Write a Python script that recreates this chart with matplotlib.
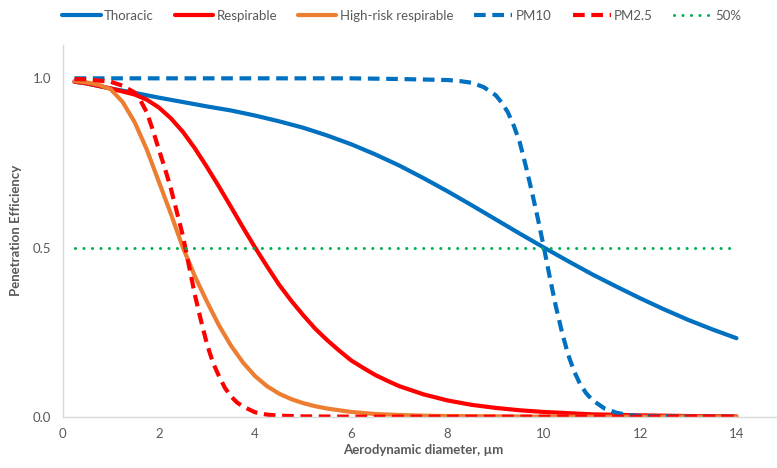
import matplotlib
matplotlib.use("Agg")
import matplotlib.pyplot as plt

# values
thor_x = [0.25, 0.5, 1, 1.5, 2, 2.5, 3, 3.5, 4, 4.5, 5, 5.5, 6, 6.5, 7, 7.5, 8, 8.5, 9, 9.5,
          10, 10.5, 11, 11.5, 12, 12.5, 13, 13.5, 14]
thor_y = [0.99, 0.985, 0.97, 0.957, 0.943, 0.93, 0.917, 0.905, 0.89, 0.873, 0.854, 0.831, 0.805,
          0.775, 0.742, 0.705, 0.666, 0.625, 0.583, 0.541, 0.50, 0.46, 0.421, 0.385, 0.35, 0.317,
          0.286, 0.258, 0.232]

resp_x = [0.25, 0.5, 1, 1.5, 1.75, 2, 2.25, 2.5, 2.75, 3, 3.25, 3.5, 3.75, 4, 4.25, 4.5, 4.75,
          5, 5.25, 5.5, 5.75, 6, 6.25, 6.5, 6.75, 7, 7.5, 8, 8.5, 9, 9.5, 10, 11, 12, 13, 14]
resp_y = [0.99, 0.985, 0.97, 0.952, 0.937, 0.914, 0.882, 0.842, 0.793, 0.738, 0.68, 0.62, 0.559,
          0.50, 0.444, 0.39, 0.343, 0.30, 0.26, 0.226, 0.195, 0.166, 0.144, 0.123, 0.106, 0.09,
          0.066, 0.048, 0.035, 0.026, 0.019, 0.014, 0.007, 0.004, 0.002, 0.001]

hr_x = [0.25, 0.5, 0.75, 1, 1.25, 1.5, 1.75, 2, 2.25, 2.5, 2.75, 3, 3.25, 3.5, 3.75, 4, 4.25,
        4.5, 4.75, 5, 5.25, 5.5, 6, 6.5, 7, 7.5, 8, 9, 10, 12, 14]
hr_y = [0.992, 0.988, 0.981, 0.968, 0.93, 0.87, 0.79, 0.695, 0.60, 0.50, 0.415, 0.34, 0.27,
        0.21, 0.16, 0.12, 0.09, 0.068, 0.052, 0.04, 0.031, 0.024, 0.014, 0.008, 0.005, 0.003,
        0.002, 0.001, 0.0, 0.0, 0.0]

pm10_x = [0.25, 2, 4, 6, 7, 8, 8.25, 8.5, 8.75, 9, 9.125, 9.25, 9.375, 9.5, 9.625, 9.75, 9.875,
          10, 10.125, 10.25, 10.375, 10.5, 10.625, 10.75, 10.875, 11, 11.25, 11.5, 11.75, 12, 13, 14]
pm10_y = [1.0, 1.0, 1.0, 1.0, 0.998, 0.995, 0.992, 0.987, 0.974, 0.95, 0.928, 0.90, 0.86, 0.81,
          0.74, 0.665, 0.585, 0.50, 0.41, 0.325, 0.25, 0.185, 0.135, 0.097, 0.07, 0.05, 0.025,
          0.012, 0.005, 0.002, 0.0, 0.0]

pm25_x = [0.25, 0.5, 1, 1.25, 1.5, 1.625, 1.75, 1.875, 2, 2.125, 2.25, 2.5, 2.75, 2.875, 3,
          3.125, 3.25, 3.375, 3.5, 3.625, 3.75, 4, 4.25, 4.5, 5, 6, 8, 10, 12, 14]
pm25_y = [0.998, 0.997, 0.99, 0.978, 0.958, 0.933, 0.90, 0.848, 0.79, 0.735, 0.675, 0.535, 0.36,
          0.285, 0.215, 0.16, 0.12, 0.085, 0.06, 0.042, 0.03, 0.013, 0.006, 0.003, 0.001, 0.0,
          0.0, 0.0, 0.0, 0.0]

half_x = [0.25, 14]
half_y = [0.5, 0.5]

xticks = [0, 2, 4, 6, 8, 10, 12, 14]
yticks = [0.0, 0.5, 1.0]

blue = "#0070C0"
red = "#FF0000"
orange = "#ED7D31"
green = "#00B050"
grey_txt = "#595959"

plt.rcParams['font.family'] = ['Lato', 'DejaVu Sans']

fig = plt.figure(figsize=(7.77, 4.68), dpi=100)
ax = fig.add_axes([62.5 / 777, 51.3 / 468, 722.1 / 777, 372.2 / 468])

lw = 3
solid = dict(lw=lw, solid_capstyle="round", solid_joinstyle="round")
dashed = dict(lw=lw, dashes=(2.8, 1.6), dash_joinstyle="round")
ax.plot(thor_x, thor_y, color=blue, label="Thoracic", **solid)
ax.plot(resp_x, resp_y, color=red, label="Respirable", **solid)
ax.plot(hr_x, hr_y, color=orange, label="High-risk respirable", **solid)
ax.plot(pm10_x, pm10_y, color=blue, label="PM10", **dashed)
ax.plot(pm25_x, pm25_y, color=red, label="PM2.5", **dashed)
ax.plot(half_x, half_y, color=green, lw=2.2, dashes=(0.01, 2.77),
        dash_capstyle="round", label="50%")

ax.set_xlim(0, 15)
ax.set_ylim(0, 1.1)
ax.set_xticks(xticks)
ax.set_yticks(yticks)
ax.set_yticklabels([f"{v:.1f}" for v in yticks])
ax.tick_params(length=0, labelsize=9.5, colors=grey_txt, pad=8)

for s in ["top", "right"]:
    ax.spines[s].set_visible(False)
for s in ["left", "bottom"]:
    ax.spines[s].set_color("#D9D9D9")
    ax.spines[s].set_linewidth(1)

ax.set_xlabel("Aerodynamic diameter, \u00b5m", fontsize=9.5, fontweight="bold", color=grey_txt, labelpad=3)
ax.set_ylabel("Penetration Efficiency", fontsize=9.5, fontweight="bold", color=grey_txt, labelpad=8)

fig.legend(loc="center", bbox_to_anchor=(402 / 777, 1 - 16 / 468), ncol=6, frameon=False,
           fontsize=9.5, handlelength=2.9, handletextpad=0.25, columnspacing=1.6,
           labelcolor=grey_txt)

fig.savefig("out.png", dpi=100)
